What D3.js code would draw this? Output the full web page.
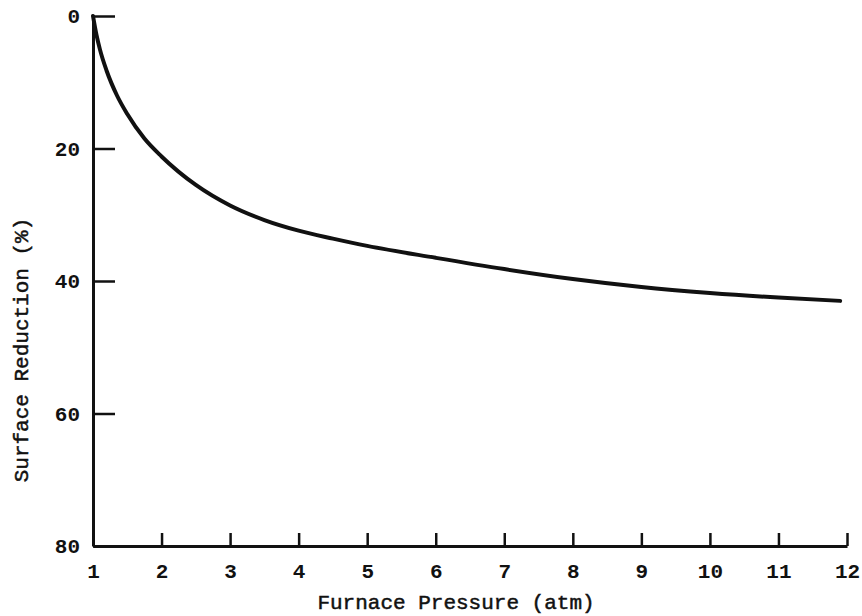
<!DOCTYPE html>
<html>
<head>
<meta charset="utf-8">
<script src="https://cdn.jsdelivr.net/npm/d3@7"></script>
<style>
  body { margin: 0; background: #fff; }
  text { font-family: "Liberation Mono", "Courier New", monospace; fill: #111; }
</style>
</head>
<body>
<script>
// surface reduction vs furnace pressure
const pressure = [1.0, 1.05, 1.1, 1.2, 1.35, 1.5, 1.75, 2.0, 2.5, 3.0, 3.5, 4.0, 4.5, 5.0, 6.0, 7.0, 8.0, 9.0, 10.0, 11.0, 11.9];
const reduction = [0, 2.8, 5, 8.3, 12, 14.8, 18.5, 21.2, 25.5, 28.6, 30.8, 32.4, 33.6, 34.7, 36.5, 38.2, 39.7, 40.9, 41.8, 42.5, 43.0];
const xTicks = [1, 2, 3, 4, 5, 6, 7, 8, 9, 10, 11, 12];
const yTicks = [0, 20, 40, 60, 80];

const width = 862;
const height = 616;
const margin = { left: 93, right: 15, top: 16, bottom: 70 };

const svg = d3.select('body').append('svg')
  .attr('width', width)
  .attr('height', height);

const xScale = d3.scaleLinear()
  .domain([1, 12])
  .range([margin.left, width - margin.right]);

const yScale = d3.scaleLinear()
  .domain([0, 80])
  .range([margin.top, height - margin.bottom]);

// y axis, ticks point inward
const yAxis = d3.axisLeft(yScale)
  .tickValues(yTicks)
  .tickSizeInner(-22)
  .tickSizeOuter(0)
  .tickPadding(13);

const gy = svg.append('g')
  .attr('transform', `translate(${margin.left}, 0)`)
  .call(yAxis);

// x axis, ticks point up
const xAxis = d3.axisBottom(xScale)
  .tickValues(xTicks)
  .tickSizeInner(-13)
  .tickSizeOuter(0)
  .tickPadding(17);

const gx = svg.append('g')
  .attr('transform', `translate(0, ${height - margin.bottom})`)
  .call(xAxis);

[gx, gy].forEach((g) => {
  g.select('.domain').attr('stroke', '#111').attr('stroke-width', 3);
  g.selectAll('.tick line').attr('stroke', '#111').attr('stroke-width', 2.5);
  g.selectAll('.tick text')
    .attr('font-size', 21)
    .attr('font-weight', 'bold')
    .attr('font-family', '"Liberation Mono", monospace')
    .attr('fill', '#111');
});

// curve
const line = d3.line()
  .x((d, i) => xScale(pressure[i]))
  .y(d => yScale(d))
  .curve(d3.curveMonotoneX);

svg.append('path')
  .datum(reduction)
  .attr('d', line)
  .attr('fill', 'none')
  .attr('stroke', '#111')
  .attr('stroke-width', 4)
  .attr('stroke-linecap', 'round');

// axis titles
svg.append('text')
  .text('Furnace Pressure (atm)')
  .attr('x', 456)
  .attr('y', 609)
  .attr('text-anchor', 'middle')
  .attr('font-size', 21)
  .attr('stroke', '#111')
  .attr('stroke-width', 0.5);

svg.append('text')
  .text('Surface Reduction (%)')
  .attr('transform', 'translate(28, 350) rotate(-90)')
  .attr('text-anchor', 'middle')
  .attr('font-size', 21)
  .attr('stroke', '#111')
  .attr('stroke-width', 0.5);
</script>
</body>
</html>
